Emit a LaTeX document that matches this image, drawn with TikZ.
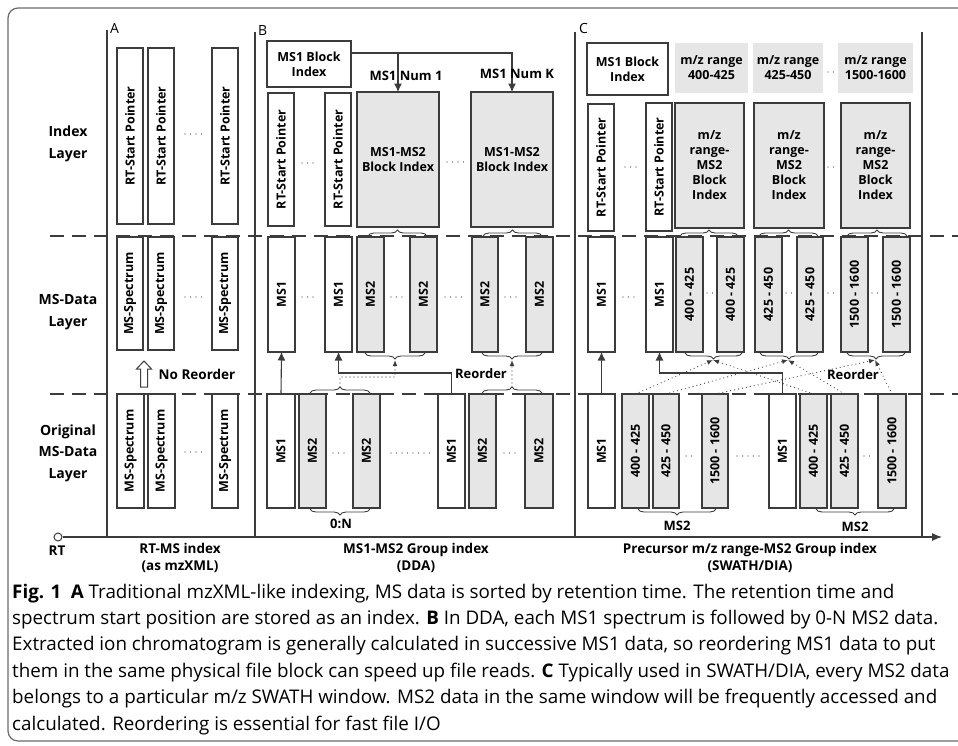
\documentclass[tikz,border=0pt]{standalone}
\usepackage{fontspec}
\setmainfont{Open Sans}
\newfontfamily\capfont{Open Sans}
\usepackage{graphicx}
\usetikzlibrary{arrows.meta,decorations.pathreplacing}
\definecolor{ln}{HTML}{3C3C3C}
\definecolor{gf}{HTML}{E6E6E6}
\definecolor{fr}{HTML}{6A6A6A}
\newcommand\boxf{\fontsize{12.5}{15}\selectfont\bfseries}
\newcommand\rt[1]{\rotatebox{90}{#1}}
\newcommand\mybox[7]{\node[#2, minimum width={(#5-#3)*1pt}, minimum height={(#6-#4)*1pt}] (#1) at ({(#3+#5)/2},{(#4+#6)/2}) {#7};}
\tikzset{
  wb/.style={draw=ln, line width=1.1pt, fill=white, inner sep=0pt, outer sep=0pt, font=\boxf, align=center},
  gb/.style={wb, fill=gf},
  mzb/.style={fill=gf, inner sep=0pt, outer sep=0pt, font=\boxf, align=center},
  dts/.style={draw=ln, line width=1.3pt, line cap=round, dash pattern=on 0pt off 5.5pt},
  arr/.style={draw=ln, line width=1.1pt, -{Latex[length=8.5pt,width=8pt]}},
  darr/.style={draw=ln, line width=1.2pt, line cap=round, dash pattern=on 0pt off 4pt, -{Latex[length=6pt,width=5pt]}},
  brc/.style={draw=ln, line width=0.9pt, decorate, decoration={brace, amplitude=6pt}},
  dsh/.style={draw=ln, line width=1.6pt, dash pattern=on 14pt off 8pt},
  pl/.style={draw=ln, line width=1.1pt},
  lay/.style={font=\fontsize{14}{21.5}\selectfont\bfseries, align=center},
  lbl/.style={font=\fontsize{13}{15}\selectfont\bfseries},
  pan/.style={font=\fontsize{14}{16}\selectfont, anchor=west, inner sep=0pt},
  axl/.style={font=\capfont\fontsize{13.5}{16.5}\selectfont\bfseries, align=center},
  capl/.style={font=\capfont\fontsize{18.8}{22}\selectfont, anchor=base west, inner sep=0pt}
}
\begin{document}
\begin{tikzpicture}[x=1pt,y=-1pt]
\useasboundingbox (0,0) rectangle (958,745);
% frame
\draw[fr, line width=1.2pt, rounded corners=10pt] (990,8) -- (8,8) -- (8,741) -- (990,741);
% panel lines
\draw[pl] (107,30) -- (107,537);
\draw[pl] (255,32) -- (255,537);
\draw[pl] (575,32) -- (575,537);
\draw[pl] (922,32) -- (922,537);
\node[pan] (pA) at (110,28) {A};
\node[pan] (pB) at (258,30) {B};
\node[pan] (pC) at (579,28) {C};
% layer labels
\node[lay] (lay1) at (68,144) {Index\\Layer};
\node[lay] (lay2) at (68,312) {MS-Data\\Layer};
\node[lay] (lay3) at (68,453) {Original\\MS-Data\\Layer};

% ---------- Panel A ----------
\mybox{iA1}{wb}{117}{48}{143}{224}{\rt{RT-Start Pointer}}
\mybox{iA2}{wb}{148}{48}{174}{224}{\rt{RT-Start Pointer}}
\mybox{iA3}{wb}{212}{48}{238}{224}{\rt{RT-Start Pointer}}
\draw[dts] (185,134) -- (202,134);
\mybox{mA1}{wb}{117}{237}{143}{350}{\rt{MS-Spectrum}}
\mybox{mA2}{wb}{148}{237}{174}{350}{\rt{MS-Spectrum}}
\mybox{mA3}{wb}{212}{237}{238}{350}{\rt{MS-Spectrum}}
\draw[dts] (185,297) -- (202,297);
\mybox{oA1}{wb}{117}{394}{144}{508}{\rt{MS-Spectrum}}
\mybox{oA2}{wb}{148}{394}{175}{508}{\rt{MS-Spectrum}}
\mybox{oA3}{wb}{212}{394}{238}{508}{\rt{MS-Spectrum}}
\draw[dts] (185,452) -- (202,452);
\draw[ln, line width=1pt, fill=white] (140.5,387) -- (140.5,369) -- (136.5,369) -- (144,361) -- (151.5,369) -- (147.5,369) -- (147.5,387) -- cycle;
\node[lbl, font=\fontsize{13.5}{15}\selectfont\bfseries] (noreo) at (197,374) {No Reorder};

% ---------- Panel B ----------
\mybox{bIdx}{wb}{267}{41}{351}{87}{MS1 Block\\Index}
\mybox{iB1}{wb}{268}{93}{294}{226}{\rt{RT-Start Pointer}}
\mybox{iB2}{wb}{325}{93}{351}{226}{\rt{RT-Start Pointer}}
\draw[dts] (302,163) -- (318,163);
\mybox{iB3}{gb}{357}{92}{439}{227}{MS1-MS2\\Block Index}
\mybox{iB4}{gb}{471}{92}{553}{227}{MS1-MS2\\Block Index}
\draw[dts] (447,162) -- (464,162);
\draw[arr] ([yshift=11pt]bIdx.east) -| (iB3.north);
\draw[arr] ([yshift=11pt]bIdx.east) -| (iB4.north);
\node[lbl] (num1) at (406,76) {MS1 Num 1};
\node[lbl] (numk) at (517,74) {MS1 Num K};

\mybox{mB1}{wb}{268}{237}{295}{352}{\rt{MS1}}
\mybox{mB2}{wb}{325}{237}{352}{352}{\rt{MS1}}
\mybox{mB3}{gb}{357}{237}{384}{352}{\rt{MS2}}
\mybox{mB4}{gb}{410}{237}{437}{352}{\rt{MS2}}
\mybox{mB5}{gb}{472}{237}{498}{352}{\rt{MS2}}
\mybox{mB6}{gb}{526}{237}{553}{352}{\rt{MS2}}
\draw[dts] (302,297) -- (318,297);
\draw[dts] (391,297) -- (403,297);
\draw[dts] (445,297) -- (466,297);
\draw[dts] (505,297) -- (519,297);

\mybox{oB1}{wb}{267}{394}{295}{508}{\rt{MS1}}
\mybox{oB2}{gb}{299}{394}{326}{508}{\rt{MS2}}
\mybox{oB3}{gb}{353}{394}{380}{508}{\rt{MS2}}
\mybox{oB4}{wb}{438}{394}{465}{508}{\rt{MS1}}
\mybox{oB5}{gb}{469}{394}{496}{508}{\rt{MS2}}
\mybox{oB6}{gb}{525}{394}{553}{508}{\rt{MS2}}
\draw[dts] (333,453) -- (347,453);
\draw[dts] (391,453) -- (432,453);
\draw[dts] (504,453) -- (519,453);

% braces B
\draw[brc] (368,236) -- (427,236);
\draw[brc] (483,236) -- (542,236);
\draw[brc] (425,353) -- (365,353);
\draw[brc] (542,353) -- (482,353);
\draw[brc] (310,393) -- (370,393);
\draw[brc] (482,393) -- (542,393);
\draw[brc] (370,509) -- (310,509);
\node[lbl] (zn) at (341,524) {0:N};
\coordinate (tB1) at (395,360);
\coordinate (tB2) at (512,360);
\coordinate (sB1) at (340,387);
\coordinate (sB2) at (512,387);
% arrows B
\draw[arr] (oB1.north) -- (mB1.south);
\draw[arr] (oB4.north) -- ++(0,-21) -| (mB2.south);
\draw[darr] (sB1) -- (340,377) -- (395,377) -- (tB1);
\draw[darr] (sB2) -- (tB2);
\node[lbl] (reoB) at (481,374) {Reorder};

% ---------- Panel C ----------
\mybox{cIdx}{wb}{587}{43}{668}{95}{MS1 Block\\Index}
\mybox{mz1}{mzb}{675}{43}{748}{93}{m/z range\\400-425}
\mybox{mz2}{mzb}{753}{43}{823}{93}{m/z range\\425-450}
\mybox{mz3}{mzb}{838}{43}{913}{93}{m/z range\\1500-1600}
\draw[dts] (828,72) -- (834,72);
\mybox{iC1}{wb}{588}{104}{614}{231}{\rt{RT-Start Pointer}}
\mybox{iC2}{wb}{646}{103}{672}{231}{\rt{RT-Start Pointer}}
\draw[dts] (625,167) -- (636,167);
\mybox{iC3}{gb}{675}{103}{744}{228}{m/z\\range-\\MS2\\Block\\Index}
\mybox{iC4}{gb}{754}{103}{824}{228}{m/z\\range-\\MS2\\Block\\Index}
\mybox{iC5}{gb}{841}{103}{910}{228}{m/z\\range-\\MS2\\Block\\Index}
\draw[dts] (828,167) -- (836,167);

\mybox{mC1}{wb}{588}{237}{615}{352}{\rt{MS1}}
\mybox{mC2}{wb}{646}{237}{673}{352}{\rt{MS1}}
\mybox{mC3}{gb}{676}{237}{703}{352}{\rt{400 - 425}}
\mybox{mC4}{gb}{717}{237}{744}{352}{\rt{400 - 425}}
\mybox{mC5}{gb}{755}{237}{782}{352}{\rt{425 - 450}}
\mybox{mC6}{gb}{797}{237}{823}{352}{\rt{425 - 450}}
\mybox{mC7}{gb}{841}{237}{868}{352}{\rt{1500 - 1600}}
\mybox{mC8}{gb}{883}{237}{910}{352}{\rt{1500 - 1600}}
\draw[dts] (623,297) -- (639,297);
\draw[dts] (707,293) -- (713,293);
\draw[dts] (786,293) -- (792,293);
\draw[dts] (828,293) -- (837,293);
\draw[dts] (872,293) -- (879,293);

\mybox{oC1}{wb}{588}{394}{615}{508}{\rt{MS1}}
\mybox{oC2}{gb}{622}{394}{649}{508}{\rt{400 - 425}}
\mybox{oC3}{gb}{653}{394}{679}{508}{\rt{425 - 450}}
\mybox{oC4}{gb}{702}{394}{728}{508}{\rt{1500 - 1600}}
\mybox{oC5}{wb}{769}{394}{796}{508}{\rt{MS1}}
\mybox{oC6}{gb}{800}{394}{827}{508}{\rt{400 - 425}}
\mybox{oC7}{gb}{831}{394}{858}{508}{\rt{425 - 450}}
\mybox{oC8}{gb}{878}{394}{906}{508}{\rt{1500 - 1600}}
\draw[dts] (686,456) -- (695,456);
\draw[dts] (737,456) -- (763,456);
\draw[dts] (864,456) -- (872,456);

% braces C
\draw[brc] (680,236) -- (738,236);
\draw[brc] (759,236) -- (818,236);
\draw[brc] (847,236) -- (907,236);
\draw[brc] (742,353) -- (685,353);
\draw[brc] (818,353) -- (760,353);
\draw[brc] (905,353) -- (847,353);
\draw[brc] (716,509) -- (638,509);
\draw[brc] (894,509) -- (816,509);
\node[lbl] (ms2a) at (677,526) {MS2};
\node[lbl] (ms2b) at (855,527) {MS2};
\coordinate (tC1) at (713,360);
\coordinate (tC2) at (788,360);
\coordinate (tC3) at (875,360);
\draw[arr] (oC1.north) -- (mC1.south);
\draw[arr] (oC5.north) -- ++(0,-21) -| (mC2.south);
\draw[darr] (oC2.north) -- (tC1);
\draw[darr] (oC6.north) -- (tC1);
\draw[darr] (oC3.north) -- (tC2);
\draw[darr] (oC7.north) -- (tC2);
\draw[darr] (oC4.north) -- (tC3);
\draw[darr] (oC8.north) -- (tC3);
\node[lbl] (reoC) at (853,375) {Reorder};

% dashed layer separators
\draw[dsh] (50,236) -- (958,236);
\draw[dsh] (50,394) -- (958,394);

% axis
\node[circle, draw=ln, line width=1pt, minimum size=8pt, inner sep=0pt] (rt0) at (58,537) {};
\coordinate (axend) at (942,537);
\draw[draw=ln, line width=1.1pt, -{Latex[length=10pt,width=8pt]}] (rt0.east) -- (axend);
\node[axl] (axrt) at (57,551) {RT};
\node[axl] (ax1) at (180,558) {RT-MS index\\(as mzXML)};
\node[axl] (ax2) at (416,558) {MS1-MS2 Group index\\(DDA)};
\node[axl] (ax3) at (750,558) {Precursor m/z range-MS2 Group index\\(SWATH/DIA)};

% caption
\node[capl] (cap1) at (12,598) {\textbf{Fig. 1}\enspace\textbf{A} Traditional mzXML-like indexing, MS data is sorted by retention time. The retention time and};
\node[capl] (cap2) at (12,624.4) {spectrum start position are stored as an index. \textbf{B} In DDA, each MS1 spectrum is followed by 0-N MS2 data.};
\node[capl] (cap3) at (12,650.8) {Extracted ion chromatogram is generally calculated in successive MS1 data, so reordering MS1 data to put};
\node[capl] (cap4) at (12,677.2) {them in the same physical file block can speed up file reads. \textbf{C} Typically used in SWATH/DIA, every MS2 data};
\node[capl] (cap5) at (12,703.6) {belongs to a particular m/z SWATH window. MS2 data in the same window will be frequently accessed and};
\node[capl] (cap6) at (12,730) {calculated. Reordering is essential for fast file I/O};
\end{tikzpicture}
\end{document}
